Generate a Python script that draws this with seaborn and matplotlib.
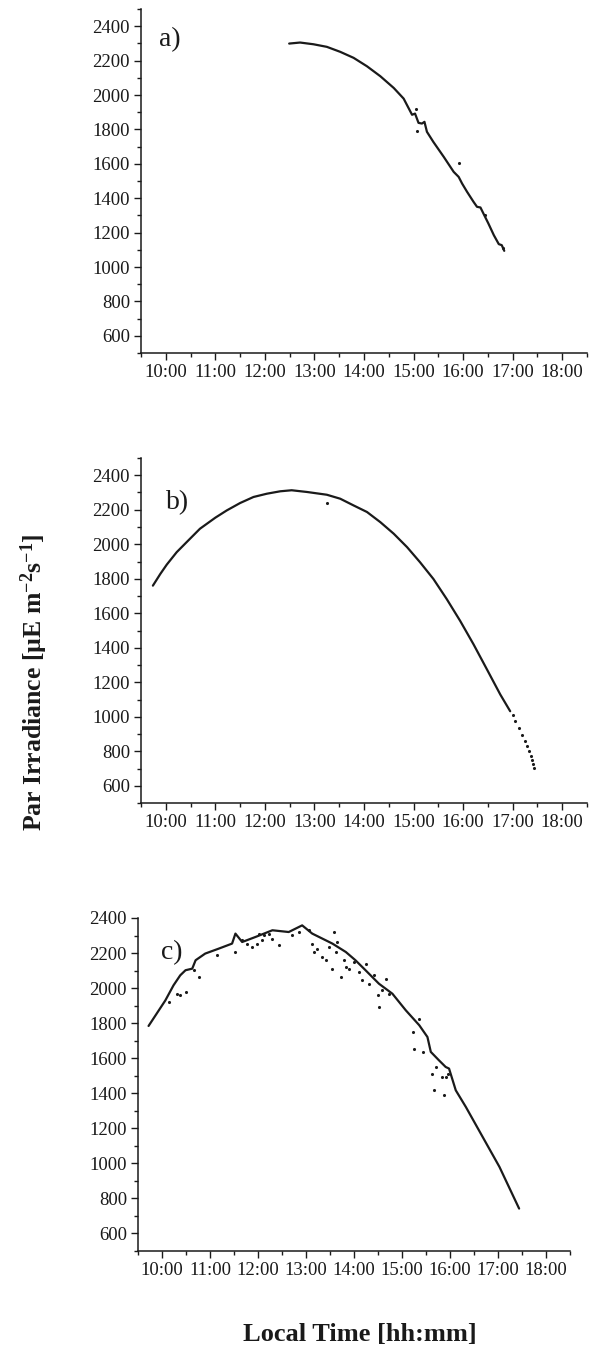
import numpy as np
import matplotlib
matplotlib.use("Agg")
import matplotlib.pyplot as plt
import pandas as pd
import seaborn as sns
from matplotlib.ticker import MultipleLocator, FuncFormatter

sns.set_style("ticks")
plt.rcParams['font.family'] = ['Liberation Serif', 'DejaVu Serif']
plt.rcParams['mathtext.fontset'] = 'custom'
plt.rcParams['mathtext.rm'] = 'Liberation Serif'
plt.rcParams['mathtext.bf'] = 'Liberation Serif:bold'
plt.rcParams['mathtext.it'] = 'Liberation Serif:italic'

# panel a) main trace (hour of day, PAR)
a_hour = [12.49, 12.71, 12.98, 13.25, 13.52, 13.79, 14.06, 14.33, 14.60, 14.80,
          14.97, 15.03, 15.10, 15.17, 15.22, 15.27, 15.40, 15.61, 15.81, 15.91,
          15.98, 16.08, 16.21, 16.28, 16.35, 16.41, 16.51, 16.62, 16.72, 16.78, 16.83]
a_par = [2299, 2305, 2295, 2280, 2251, 2216, 2167, 2109, 2041, 1979,
         1885, 1892, 1838, 1834, 1844, 1786, 1727, 1640, 1553, 1524,
         1485, 1437, 1379, 1350, 1346, 1311, 1253, 1185, 1133, 1127, 1094]
a_out_hour = [15.05, 15.07, 15.92, 16.45, 16.80]
a_out_par = [1921, 1790, 1605, 1300, 1110]

# panel b)
b_hour = [9.74, 9.89, 10.02, 10.22, 10.42, 10.69, 11.00, 11.23, 11.50, 11.77,
          12.04, 12.31, 12.54, 12.85, 13.25, 13.52, 13.79, 14.06, 14.33, 14.60,
          14.87, 15.13, 15.40, 15.67, 15.94, 16.21, 16.48, 16.75, 16.95]
b_par = [1760, 1828, 1882, 1954, 2012, 2090, 2154, 2196, 2239, 2274,
         2293, 2307, 2313, 2303, 2287, 2264, 2225, 2187, 2128, 2061,
         1983, 1896, 1799, 1682, 1556, 1420, 1275, 1129, 1032]
b_out_hour = [13.25, 17.00, 17.05, 17.12, 17.19, 17.25, 17.29, 17.32, 17.36, 17.39, 17.42, 17.44]
b_out_par = [2239, 1010, 975, 935, 897, 860, 830, 800, 775, 751, 725, 703]

# panel c)
c_hour = [9.72, 10.07, 10.24, 10.38, 10.49, 10.63, 10.70, 10.90, 11.18, 11.46,
          11.53, 11.67, 11.95, 12.30, 12.64, 12.92, 13.13, 13.55, 13.83, 14.03,
          14.24, 14.52, 14.80, 15.08, 15.36, 15.53, 15.60, 15.77, 15.91, 15.98,
          16.12, 16.33, 16.68, 17.03, 17.44]
c_par = [1784, 1930, 2016, 2073, 2102, 2111, 2159, 2197, 2225, 2254,
         2311, 2263, 2292, 2330, 2320, 2358, 2311, 2254, 2206, 2159,
         2102, 2025, 1968, 1873, 1788, 1721, 1636, 1588, 1550, 1541,
         1417, 1322, 1151, 980, 742]
c_out_hour = [10.14, 10.31, 10.38, 10.49, 10.77, 10.66, 11.15, 11.53, 11.67, 11.77,
              11.88, 11.98, 12.02, 12.12, 12.09, 12.23, 12.43, 12.30, 12.71, 12.85,
              13.06, 13.13, 13.17, 13.23, 13.34, 13.41, 13.48, 13.55, 13.58, 13.62,
              13.65, 13.72, 13.79, 13.83, 13.90, 14.00, 14.10, 14.17, 14.24, 14.31,
              14.42, 14.49, 14.52, 14.59, 14.66, 14.73, 15.22, 15.25, 15.36, 15.43,
              15.63, 15.67, 15.70, 15.84, 15.88, 15.91, 15.95]
c_out_par = [1921, 1968, 1959, 1978, 2064, 2102, 2187, 2206, 2273, 2254,
             2235, 2254, 2311, 2301, 2273, 2311, 2244, 2282, 2301, 2320,
             2330, 2254, 2206, 2225, 2178, 2159, 2235, 2111, 2320, 2206,
             2263, 2064, 2159, 2121, 2111, 2149, 2092, 2044, 2140, 2025,
             2073, 1959, 1892, 1987, 2054, 1968, 1750, 1655, 1826, 1636,
             1512, 1417, 1550, 1493, 1389, 1493, 1512]

hour_ticks = list(range(10, 19))
par_ticks = list(range(600, 2401, 200))

W, H = 597, 1348
fig = plt.figure(figsize=(W / 100, H / 100), dpi=100)

panels = [
    ("a)", a_hour, a_par, a_out_hour, a_out_par, [141, 9, 587, 353], 2500, (170, 40)),
    ("b)", b_hour, b_par, b_out_hour, b_out_par, [141, 458, 587, 803], 2500, (178, 503)),
    ("c)", c_hour, c_par, c_out_hour, c_out_par, [138, 918, 570, 1251], 2400, (172, 953)),
]

ink = "#1a1a1a"
for label, hx, py, ohx, opy, box, ytop, lab_xy in panels:
    x0, y0, x1, y1 = box
    ax = fig.add_axes([x0 / W, 1 - y1 / H, (x1 - x0) / W, (y1 - y0) / H])
    df = pd.DataFrame({"hour": hx, "par": py})
    sns.lineplot(data=df, x="hour", y="par", ax=ax, sort=False, color=ink, lw=1.6)
    dfo = pd.DataFrame({"hour": ohx, "par": opy})
    sns.scatterplot(data=dfo, x="hour", y="par", ax=ax, color=ink, s=5, linewidth=0)

    ax.set_xlim(9.5, 18.5)
    ax.set_ylim(500, ytop)
    ax.set_xticks(hour_ticks)
    ax.set_yticks(par_ticks)
    ax.xaxis.set_minor_locator(MultipleLocator(0.5))
    ax.yaxis.set_minor_locator(MultipleLocator(100))
    ax.xaxis.set_major_formatter(FuncFormatter(lambda v, p: f"{int(round(v))}:00"))
    ax.tick_params(which="major", length=5, width=1, colors=ink, labelsize=13.5, pad=3)
    ax.tick_params(which="minor", length=3, width=1, colors=ink)
    ax.set_xlabel("")
    ax.set_ylabel("")
    for s in ["left", "bottom"]:
        ax.spines[s].set_color(ink)
        ax.spines[s].set_linewidth(1.1)
    sns.despine(ax=ax)
    fig.text(lab_xy[0] / W, 1 - lab_xy[1] / H, label, fontsize=20, color=ink,
             ha="center", va="center")

fig.text(34 / W, 1 - 682 / H,
         r"Par Irradiance [µE m$^{\mathbf{-2}}$s$^{\mathbf{-1}}$]",
         rotation=90, ha="center", va="center", fontsize=18.5, fontweight="bold", color=ink)
fig.text(360 / W, 1 - 1335 / H, "Local Time [hh:mm]", ha="center", va="center",
         fontsize=19, fontweight="bold", color=ink)

fig.savefig("out.png", dpi=100)
